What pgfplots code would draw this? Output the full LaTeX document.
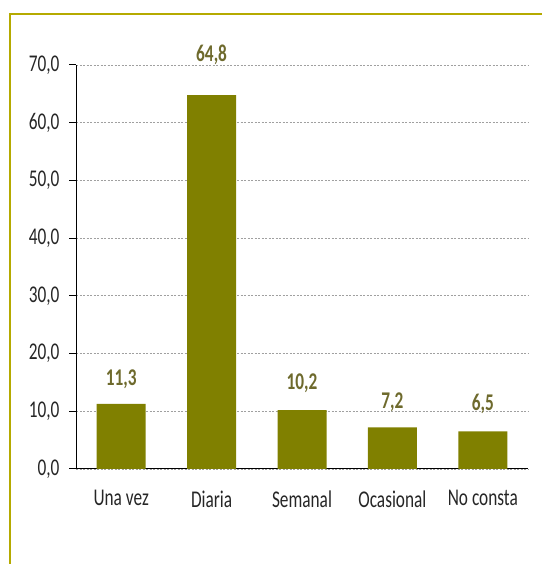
\documentclass[border=0pt]{standalone}
\usepackage{fontspec}
\setmainfont{Carlito}[FakeStretch=0.72]
\usepackage{pgfplots}
\usepackage{pgfplotstable}
\pgfplotsset{compat=1.18}

\definecolor{barolive}{RGB}{128,128,0}
\definecolor{labolive}{RGB}{110,106,45}
\definecolor{frame}{RGB}{181,170,0}
\definecolor{gridgray}{RGB}{160,160,160}

% category, value
\pgfplotstableread{
x  val
1  11.3
2  64.8
3  10.2
4  7.2
5  6.5
}\freq

% label positions (value labels sit a bit above each bar)
\pgfplotstableread{
x  y     lab
1  15.6  11,3
2  71.7  64,8
3  14.9  10,2
4  11.6  7,2
5  11.3  6,5
}\labs

\begin{document}
\begin{tikzpicture}
\path[use as bounding box] (0pt,0pt) rectangle (542pt,564pt);
\draw[frame, line width=2.5pt] (10pt,0pt) -- (10pt,550pt) -- (542pt,550pt);

\begin{axis}[
    at={(76pt,95pt)}, anchor=south west,
    scale only axis,
    width=452pt, height=404pt,
    xmin=0.5, xmax=5.5,
    ymin=0, ymax=70,
    axis x line*=bottom, axis y line*=left,
    axis line style={black, line width=1pt},
    xtick={1,2,3,4,5},
    xticklabels={Una vez, Diaria, Semanal, Ocasional, No consta},
    x tick style={draw=none},
    extra x ticks={0.5,1.5,2.5,3.5,4.5,5.5},
    extra x tick labels={},
    extra x tick style={tick style={black, line width=1pt}, major tick length=8pt, tick align=outside},
    ytick={0,10,...,70},
    y tick style={black, line width=1pt},
    tick align=outside,
    major tick length=7pt,
    ymajorgrids,
    grid style={gridgray, dash pattern=on 2pt off 1.5pt, line width=0.8pt},
    yticklabel={\pgfmathprintnumber[fixed, fixed zerofill, precision=1, use comma]{\tick}},
    /pgf/number format/assume math mode=true,
    tick label style={font=\fontsize{24}{27}\selectfont, text=black!85},
    xticklabel style={yshift=-11pt},
    yticklabel style={xshift=-6pt},
    clip=false,
]
\addplot[ybar, bar width=49pt, fill=barolive, draw=none] table[x=x, y=val] {\freq};
\addplot[only marks, mark=none, nodes near coords, point meta=explicit symbolic,
    every node near coord/.style={anchor=center, text=labolive,
      font=\fontsize{24}{27}\selectfont\bfseries}]
    table[x=x, y=y, meta=lab] {\labs};
\end{axis}
\end{tikzpicture}
\end{document}
